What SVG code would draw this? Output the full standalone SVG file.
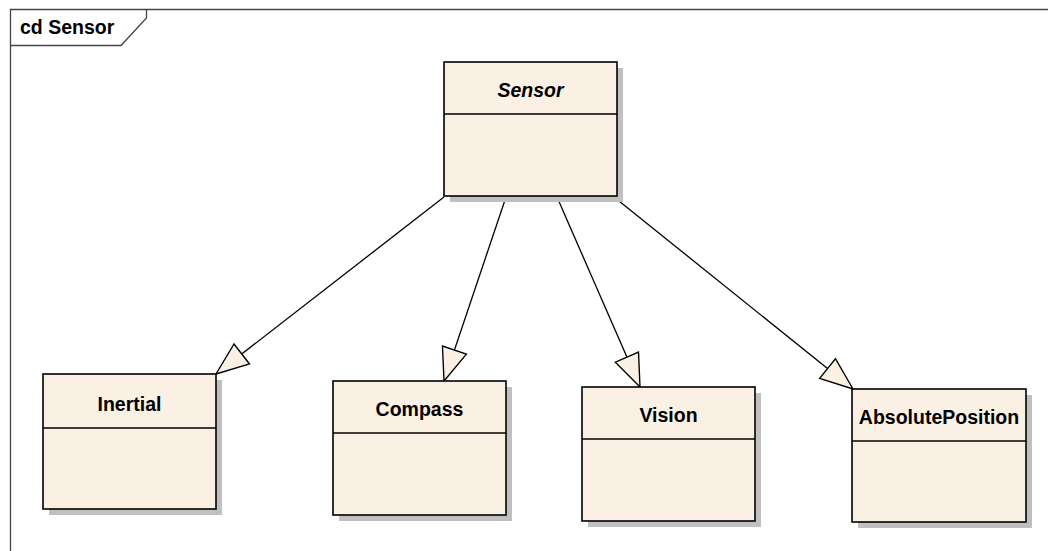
<svg xmlns="http://www.w3.org/2000/svg" width="1048" height="551" viewBox="0 0 1048 551">
<style>
.frame{fill:none;stroke:#444;stroke-width:1.3}
.shadow{fill:#c0c0c0}
.box{fill:#FAF0E3;stroke:#000;stroke-width:1.6}
.sep{stroke:#000;stroke-width:1.3}
.lbl{font-family:"Liberation Sans",Arial,sans-serif;font-weight:bold;font-size:19.5px;fill:#000;text-anchor:middle}
.conn{stroke:#000;stroke-width:1.3;fill:none}
</style>
<defs>
<marker id="gen" markerUnits="userSpaceOnUse" markerWidth="40" markerHeight="40" viewBox="-34 -16 38 32" refX="0" refY="0" orient="auto">
<path d="M0,0 L-31,-12 L-31,12 Z" fill="#FAF0E3" stroke="#000" stroke-width="1.3" stroke-linejoin="miter"/>
</marker>
</defs>
<rect width="1048" height="551" fill="#fff"/>
<g id="frame">
<path class="frame" d="M10.5,551 V9.5 H1048"/>
<path class="frame" d="M10.5,45.5 H121 L146.5,18 V9.5"/>
<text x="20" y="34" font-family="'Liberation Sans',Arial,sans-serif" font-weight="bold" font-size="19.5px">cd Sensor</text>
</g>
<g id="connectors">
<line class="conn" x1="444" y1="197" x2="216" y2="374" marker-end="url(#gen)"/>
<line class="conn" x1="506" y1="197" x2="444" y2="381" marker-end="url(#gen)"/>
<line class="conn" x1="557" y1="197" x2="640" y2="387" marker-end="url(#gen)"/>
<line class="conn" x1="614" y1="197" x2="853" y2="389" marker-end="url(#gen)"/>
</g>
<g id="Sensor">
<rect class="shadow" x="450" y="68" width="173" height="134"/>
<rect class="box" x="444" y="62" width="173" height="134"/>
<line class="sep" x1="444" y1="114" x2="617" y2="114"/>
<text class="lbl" x="530.5" y="97" font-style="italic">Sensor</text>
</g>
<g id="Inertial">
<rect class="shadow" x="49" y="380" width="173" height="135"/>
<rect class="box" x="43" y="374" width="173" height="135"/>
<line class="sep" x1="43" y1="428" x2="216" y2="428"/>
<text class="lbl" x="129.5" y="411">Inertial</text>
</g>
<g id="Compass">
<rect class="shadow" x="339" y="387" width="173" height="134"/>
<rect class="box" x="333" y="381" width="173" height="134"/>
<line class="sep" x1="333" y1="433" x2="506" y2="433"/>
<text class="lbl" x="419.5" y="416">Compass</text>
</g>
<g id="Vision">
<rect class="shadow" x="588" y="393" width="173" height="134"/>
<rect class="box" x="582" y="387" width="173" height="134"/>
<line class="sep" x1="582" y1="439" x2="755" y2="439"/>
<text class="lbl" x="668.5" y="422">Vision</text>
</g>
<g id="AbsolutePosition">
<rect class="shadow" x="858" y="395" width="174" height="133"/>
<rect class="box" x="852" y="389" width="174" height="133"/>
<line class="sep" x1="852" y1="441" x2="1026" y2="441"/>
<text class="lbl" x="939" y="424">AbsolutePosition</text>
</g>
</svg>
